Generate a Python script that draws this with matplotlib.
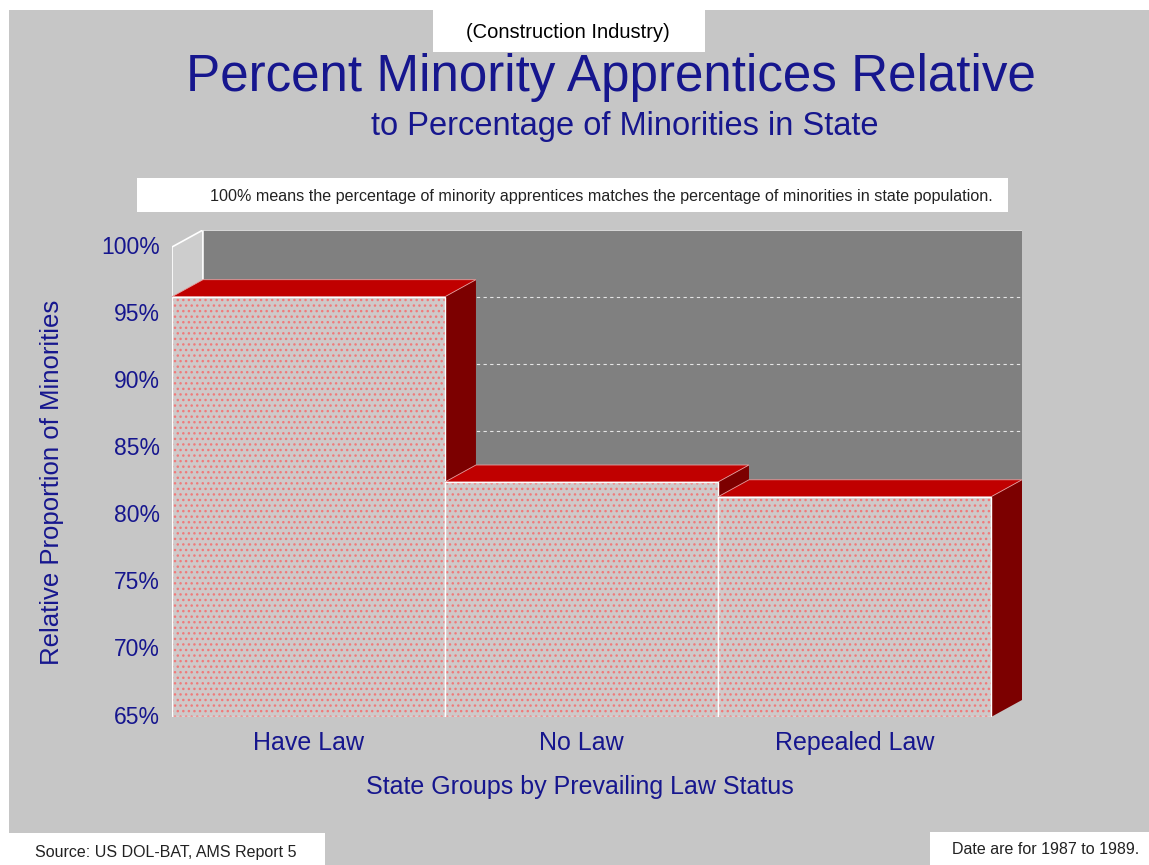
import numpy as np
import matplotlib.pyplot as plt
from matplotlib.patches import Polygon, Rectangle

plt.rcParams['font.family'] = ['Liberation Sans', 'DejaVu Sans']
plt.rcParams['hatch.linewidth'] = 1.0

#%% Data
groups  = ['Have Law', 'No Law', 'Repealed Law']
values  = [96.3, 82.5, 81.4]
y_ticks = [65, 70, 75, 80, 85, 90, 95, 100]
y_min   = 65
y_max   = 100

NAVY        = '#16168e'
BG_GRAY     = '#c6c6c6'
WALL_GRAY   = '#808080'
TOP_RED     = '#c00000'
SIDE_RED    = '#7c0000'

#%% Figure
W, H = 1149, 865
fig = plt.figure(figsize=(W/100, H/100), dpi=100, facecolor='white')

def px_box(x0, y0, x1, y1):
    # pixel box (top-left origin) -> figure fraction [l, b, w, h]
    return [x0/W, 1 - y1/H, (x1 - x0)/W, (y1 - y0)/H]

# gray panel and white label boxes
fig.patches.append(Rectangle((9/W, 0), 1, 1 - 10/H, transform=fig.transFigure,
                             facecolor=BG_GRAY, edgecolor='none', zorder=-2))
for (x0, y0, x1, y1) in [(0, 833, 325, 865), (930, 832, 1149, 865),
                         (433, 0, 705, 52), (137, 178, 1008, 212)]:
    l, b, w, h = px_box(x0, y0, x1, y1)
    fig.patches.append(Rectangle((l, b), w, h, transform=fig.transFigure,
                                 facecolor='white', edgecolor='none', zorder=-1))

#### Axes: front plane 172..993 px, back wall to 1022 px, 65% at 717 px
n       = len(groups)
dx      = 31/((993 - 172)/n)                # depth offset in category units
dy      = 17/((717 - 247)/(y_max - y_min))  # depth offset in percent units
ax = fig.add_axes(px_box(172, 230, 1022, 717))
ax.set_zorder(5)
ax.patch.set_visible(False)
ax.set_xlim(0, n + dx)
ax.set_ylim(y_min, y_max + dy)
ax.axis('off')

#### Back wall and left side wall
ax.add_patch(Rectangle((dx, y_min + dy), n, y_max - y_min, facecolor=WALL_GRAY,
                       edgecolor='none', zorder=1))
ax.add_patch(Polygon([(0, y_min), (dx, y_min + dy), (dx, y_max + dy), (0, y_max)],
                     closed=True, facecolor='#cdcdcd', edgecolor='white', lw=1.2, zorder=1))
ax.plot([dx, n + dx], [y_max + dy, y_max + dy], color='#e8e8e8', lw=1.2, zorder=2)

#### Gridlines on the back wall
for t in y_ticks[1:-1]:
    ax.plot([dx, n + dx], [t + dy, t + dy], color='white', lw=0.8,
            ls=(0, (3, 3)), alpha=0.8, zorder=2)

#### 3D bars
for i, v in enumerate(values):
    z = 3 + 3*i
    side = [(i + 1, y_min), (i + 1 + dx, y_min + dy), (i + 1 + dx, v + dy), (i + 1, v)]
    ax.add_patch(Polygon(side, closed=True, facecolor=SIDE_RED, edgecolor='none', zorder=z))
    top = [(i, v), (i + dx, v + dy), (i + 1 + dx, v + dy), (i + 1, v)]
    ax.add_patch(Polygon(top, closed=True, facecolor=TOP_RED, edgecolor='#e6a0a0',
                         lw=0.6, zorder=z + 1))
    ax.add_patch(Rectangle((i, y_min), 1, v - y_min, facecolor='#cfc9c9',
                           edgecolor='#f07a7a', hatch='...', lw=0, zorder=z + 1))
    ax.add_patch(Rectangle((i, y_min), 1, v - y_min, facecolor='none',
                           edgecolor='white', lw=1.0, zorder=z + 2))

#### Tick labels
for t in y_ticks:
    ax.text(-0.045, t, f'{t}%', ha='right', va='center', fontsize=16.5,
            color=NAVY, clip_on=False)
for i, g in enumerate(groups):
    ax.text(i + 0.5, y_min - 1.95, g, ha='center', va='center', fontsize=18,
            color=NAVY, clip_on=False)

#### Texts
fig.text(568/W, 1 - 32/H, '(Construction Industry)', ha='center', va='center',
         fontsize=14.5, color='black')
fig.text(611/W, 1 - 78/H, 'Percent Minority Apprentices Relative', ha='center',
         va='center', fontsize=36.8, color=NAVY)
fig.text(625/W, 1 - 127/H, 'to Percentage of Minorities in State', ha='center',
         va='center', fontsize=23.5, color=NAVY)
fig.text(601/W, 1 - 196/H,
         '100% means the percentage of minority apprentices matches the percentage of minorities in state population.',
         ha='center', va='center', fontsize=11.6, color='#222222')
fig.text(52/W, 1 - 482/H, 'Relative Proportion of Minorities', ha='center',
         va='center', rotation=90, fontsize=18.5, color=NAVY)
fig.text(580/W, 1 - 787/H, 'State Groups by Prevailing Law Status', ha='center',
         va='center', fontsize=18, color=NAVY)
fig.text(35/W, 1 - 853/H, 'Source: US DOL-BAT, AMS Report 5', ha='left',
         va='center', fontsize=11.5, color='#222222')
fig.text(1139/W, 1 - 850/H, 'Date are for 1987 to 1989.', ha='right',
         va='center', fontsize=11.5, color='#222222')

fig.savefig('out.png', dpi=100, facecolor=fig.get_facecolor())
